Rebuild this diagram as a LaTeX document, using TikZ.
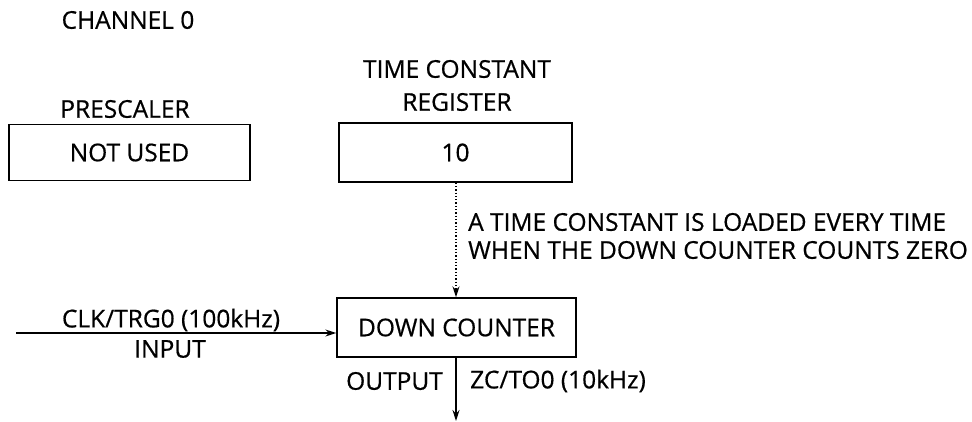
\documentclass[tikz,border=0pt]{standalone}
\usepackage{fontspec}
\setmainfont{Open Sans}[FakeBold=0.6]
\usetikzlibrary{arrows.meta}
\begin{document}
\begin{tikzpicture}[x=1pt,y=-1pt,
  lbl/.style={inner sep=0pt,font=\fontsize{24.5}{28}\selectfont},
  blk/.style={draw,line width=1.4pt,inner sep=0pt},
  conn/.style={line width=1.3pt,-{Stealth[length=11pt,width=7pt]}}]
\useasboundingbox (0,0) rectangle (972,422);
\node[lbl] (ch) at (128,20) {CHANNEL 0};
\node[lbl] (psl) at (125,109) {PRESCALER};
\node[blk,minimum width=241pt,minimum height=56pt] (ps) at (129.5,152.5) {};
\node[lbl] at (ps.center) {NOT USED};
\node[lbl] (tcl1) at (457,69) {TIME CONSTANT};
\node[lbl] (tcl2) at (457,102) {REGISTER};
\node[blk,minimum width=233pt,minimum height=59pt] (tc) at (455.5,152.5) {};
\node[lbl] at (tc.center) {10};
\node[lbl,anchor=west] (n1) at (468,222) {A TIME CONSTANT IS LOADED EVERY TIME};
\node[lbl,anchor=west] (n2) at (468,250) {WHEN THE DOWN COUNTER COUNTS ZERO};
\node[blk,minimum width=239pt,minimum height=59pt] (dc) at (456.5,327.5) {};
\node[lbl] at (dc.center) {DOWN COUNTER};
\coordinate (inl) at (16,333);
\coordinate (out) at (456,421);
\node[lbl] (clk) at (171,320) {CLK/TRG0 (100kHz)};
\node[lbl] (inp) at (170,349) {INPUT};
\node[lbl,anchor=east] (outl) at (443,381) {OUTPUT};
\node[lbl,anchor=west] (zc) at (470,381) {ZC/TO0 (10kHz)};
\draw[conn] (inl) -- (inl -| dc.west);
\draw[conn,dotted] (tc.south -| 456,0) -- (dc.north -| 456,0);
\draw[conn] (dc.south -| out) -- (out);
\end{tikzpicture}
\end{document}
